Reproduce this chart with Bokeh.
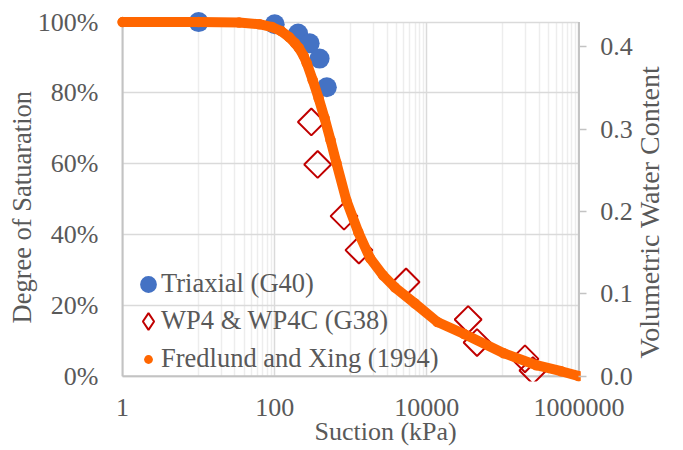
import math
from bokeh.plotting import figure
from bokeh.models import (Range1d, LinearAxis, FixedTicker, NumeralTickFormatter,
                          Legend, LegendItem, Title, Grid)
from bokeh.core.properties import value
from bokeh.embed import file_html
from bokeh.resources import INLINE

# Triaxial tests (G40): matric suction in kPa and degree of saturation
triaxial_suction = [10, 100, 203, 288, 389, 484]
triaxial_saturation = [1.000, 0.994, 0.968, 0.940, 0.897, 0.816]

# WP4 & WP4C dew-point potentiameter (G38)
wp4_suction = [303, 367, 815, 1280, 5330, 34900, 45700, 195000, 248000]
wp4_saturation = [0.718, 0.598, 0.452, 0.356, 0.266, 0.160, 0.095, 0.049, 0.016]

# Fredlund and Xing (1994) fitted soil-water characteristic curve
fx_suction = [1, 10, 34, 63, 92, 121, 154, 184, 208, 241, 264, 316, 378, 452,
              541, 648, 874, 1253, 1795, 2650, 3795, 6920, 13770, 30900,
              102600, 276000, 583000, 1000000]
fx_saturation = [1.000, 1.000, 0.999, 0.994, 0.986, 0.975, 0.958, 0.941, 0.927,
                 0.904, 0.884, 0.836, 0.785, 0.729, 0.667, 0.602, 0.497, 0.407,
                 0.333, 0.285, 0.251, 0.206, 0.153, 0.119, 0.065, 0.031, 0.014,
                 0.000]

# axis definitions
suction_ticks = [1, 100, 10000, 1000000]
suction_minor_ticks = [m * 10 ** e for e in (1, 3, 5) for m in range(1, 10)]
saturation_ticks = [0.0, 0.2, 0.4, 0.6, 0.8, 1.0]
vwc_ticks = [0.0, 0.1, 0.2, 0.3, 0.4]
vwc_labels = ["0.0", "0.1", "0.2", "0.3", "0.4"]
saturated_vwc = 0.43          # volumetric water content at 100 % saturation

X_MIN, X_MAX = 1, 1000000
S_MIN, S_MAX = 0.0, 1.0
X_PAD_LO = 10 ** 0.08         # small margins so edge markers are not cut off
X_PAD_HI = 10 ** 0.02
S_LO, S_HI = -0.015, 1.03

FONT = "Liberation Serif"
TEXT_COLOR = "#595959"
FS = "26px"
AXIS_GRAY = "#c3c3c3"
LABEL_INDENT = "\u00a0\u200a"   # gap between the right ticks and their numbers

p = figure(width=683, height=450, x_axis_type="log",
           x_range=Range1d(X_MIN / X_PAD_LO, X_MAX * X_PAD_HI),
           y_range=Range1d(S_LO, S_HI),
           output_backend="svg", toolbar_location=None,
           min_border_left=116, min_border_right=98,
           min_border_top=11, min_border_bottom=69)
p.outline_line_color = None
p.background_fill_color = "white"

p.extra_y_ranges = {"vwc": Range1d(S_LO * saturated_vwc, S_HI * saturated_vwc)}

# ---- axes ----
xticker = FixedTicker(ticks=suction_ticks, minor_ticks=suction_minor_ticks)
yticker = FixedTicker(ticks=saturation_ticks)

xaxis = p.xaxis[0]
xaxis.ticker = xticker
xaxis.formatter = NumeralTickFormatter(format="0")
xaxis.major_label_standoff = 11

yaxis = p.yaxis[0]
yaxis.ticker = yticker
yaxis.formatter = NumeralTickFormatter(format="0%")
yaxis.major_label_standoff = 12

raxis = LinearAxis(y_range_name="vwc", ticker=FixedTicker(ticks=vwc_ticks),
                   major_label_overrides={t: LABEL_INDENT + s
                                          for t, s in zip(vwc_ticks, vwc_labels)})
p.add_layout(raxis, "right")

# right-hand title drawn as the single label of an outer axis so it reads upwards
title_start_vwc = 0.05 * saturated_vwc
title_axis = LinearAxis(y_range_name="vwc",
                        ticker=FixedTicker(ticks=[title_start_vwc]),
                        major_label_overrides={title_start_vwc: "Volumetric Water Content"},
                        major_label_orientation=math.pi / 2)
p.add_layout(title_axis, "right")

for ax in (xaxis, yaxis, raxis, title_axis):
    ax.axis_line_color = None
    ax.minor_tick_line_color = None
    ax.major_label_text_font = FONT
    ax.major_label_text_font_size = FS
    ax.major_label_text_color = TEXT_COLOR

xaxis.major_tick_line_color = None
yaxis.major_tick_line_color = None
raxis.major_tick_line_color = AXIS_GRAY
raxis.major_tick_line_width = 1.5
raxis.major_tick_in = 2
raxis.major_tick_out = 6
raxis.major_label_standoff = 5

title_axis.major_label_text_font_size = "28px"
title_axis.major_tick_line_color = None
title_axis.major_tick_in = 0
title_axis.major_tick_out = 0
title_axis.minor_tick_out = 0
title_axis.major_label_standoff = 14

# ---- axis titles ----
def side_title(text, offset, standoff, size):
    return Title(text=text, align="left", offset=offset, standoff=standoff,
                 vertical_align="bottom", text_font=FONT, text_font_size=size,
                 text_font_style="normal", text_color=TEXT_COLOR)

p.add_layout(side_title("Suction (kPa)", 198, -8, FS), "below")
p.add_layout(side_title("Degree of Satuaration", 58, -4, "26.5px"), "left")

# ---- grid ----
p.xgrid.ticker = xticker
p.ygrid.ticker = yticker
p.xgrid.grid_line_color = "#dadada"
p.xgrid.grid_line_width = 1.5
p.xgrid.minor_grid_line_color = "#ededed"
p.xgrid.minor_grid_line_width = 1.5
p.ygrid.grid_line_color = "#dadada"
p.ygrid.grid_line_width = 1.5
if "cross_bounds" in Grid.properties():
    p.xgrid.cross_bounds = (S_MIN, S_MAX)
    p.ygrid.cross_bounds = (X_MIN, X_MAX)

# axis frame lines along the value domain
p.segment(x0=[X_MIN, X_MIN, X_MAX], y0=[S_MIN, S_MIN, S_MIN],
          x1=[X_MIN, X_MAX, X_MAX], y1=[S_MAX, S_MIN, S_MAX],
          line_color=AXIS_GRAY, line_width=2)

# ---- data ----
r_tri = p.scatter(triaxial_suction, triaxial_saturation, marker="circle", size=20,
                  fill_color="#4472C4", line_color=None)

r_wp4 = p.scatter(wp4_suction, wp4_saturation, marker="square", size=19,
                  angle=math.pi / 4, fill_color=None, line_color="#C00000",
                  line_width=2)

p.line(fx_suction, fx_saturation, line_color="#FF6600", line_width=10,
       line_cap="round", line_join="round")
r_fx = p.scatter(fx_suction, fx_saturation, marker="circle", size=10.5,
                 fill_color="#FF6600", line_color=None)

# diamond symbol for the WP4 legend entry (its single point is not plotted)
r_wp4_key = p.scatter(x=[float("nan")], y=[float("nan")], marker="diamond",
                      size=16, fill_color=None, line_color="#C00000", line_width=2)

# ---- legend: symbols and labels are separate blocks so each keeps its size ----
LEGEND_STYLE = dict(padding=0, margin=0, spacing=0, border_line_color=None,
                    background_fill_alpha=0, label_text_color=TEXT_COLOR,
                    label_text_font=FONT)

def legend_symbol(renderer, glyph, loc):
    p.add_layout(Legend(items=[LegendItem(label=value(" "), renderers=[renderer])],
                        location=loc, glyph_width=glyph, glyph_height=glyph,
                        label_standoff=0, label_height=2,
                        label_text_font_size="2px", **LEGEND_STYLE))

def legend_text(renderer, label, loc):
    p.add_layout(Legend(items=[LegendItem(label=value(label), renderers=[renderer])],
                        location=loc, glyph_width=0, glyph_height=30,
                        label_standoff=0, label_text_font_size="26.5px",
                        **LEGEND_STYLE))

legend_symbol(r_tri, 42, (11, 76))
legend_symbol(r_wp4_key, 42, (11, 39))
legend_symbol(r_fx, 22, (21, 11))
legend_text(r_tri, "Triaxial (G40)", (45, 82))
legend_text(r_wp4_key, "WP4 & WP4C (G38)", (45, 45))
legend_text(r_fx, "Fredlund and Xing (1994)", (45, 7))

open("out.html", "w").write(file_html(p, INLINE))
